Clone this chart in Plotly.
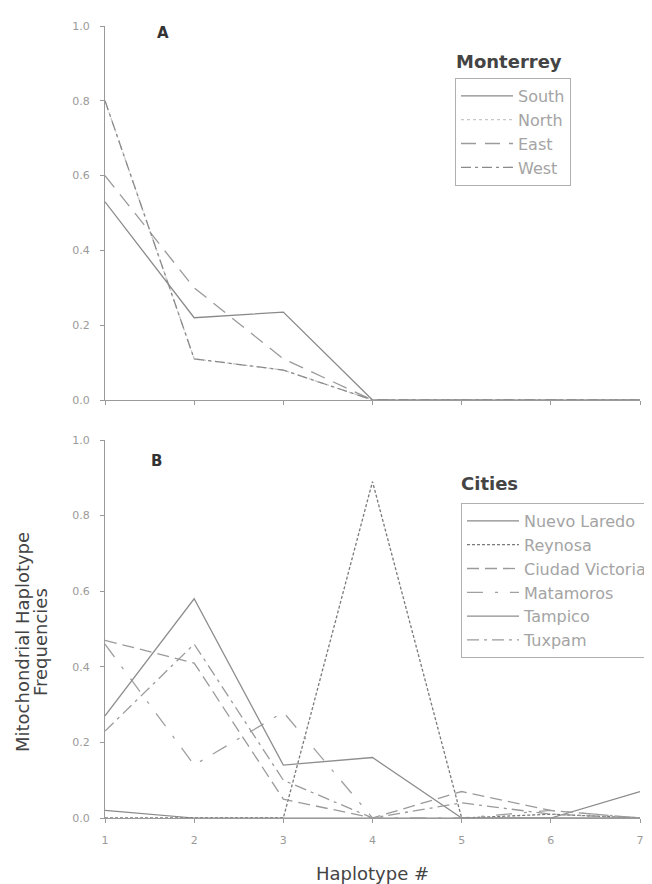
import plotly.graph_objects as go

# ---------------- data ----------------
haplotypes = [1, 2, 3, 4, 5, 6, 7]

# Panel A: Monterrey
south = [0.53, 0.22, 0.235, 0.0, 0.0, 0.0, 0.0]
north = [0.80, 0.11, 0.08, 0.0, 0.0, 0.0, 0.0]
east = [0.60, 0.30, 0.11, 0.0, 0.0, 0.0, 0.0]
west = [0.80, 0.11, 0.08, 0.0, 0.0, 0.0, 0.0]

# Panel B: Cities
nuevo_laredo = [0.02, 0.0, 0.0, 0.0, 0.0, 0.0, 0.07]
reynosa = [0.0, 0.0, 0.0, 0.89, 0.0, 0.01, 0.0]
ciudad_victoria = [0.47, 0.41, 0.05, 0.0, 0.07, 0.02, 0.0]
matamoros = [0.46, 0.14, 0.28, 0.0, 0.0, 0.02, 0.0]
tampico = [0.27, 0.58, 0.14, 0.16, 0.0, 0.0, 0.0]
tuxpam = [0.23, 0.46, 0.10, 0.0, 0.04, 0.01, 0.0]

y_ticks = [0.0, 0.2, 0.4, 0.6, 0.8, 1.0]
x_ticks = haplotypes

FONT = "DejaVu Sans"

fig = go.Figure()

panel_a = [
    ("South", south, "#8a8a8a", "solid", 1.3),
    ("North", north, "#c8c8c8", "dot", 1.3),
    ("East", east, "#9a9a9a", "15px,9px", 1.3),
    ("West", west, "#8a8a8a", "10px,4px,3px,4px", 1.3),
]
for name, vals, col, dash, w in panel_a:
    fig.add_trace(go.Scatter(x=haplotypes, y=vals, name=name, mode="lines",
                             line=dict(color=col, dash=dash, width=w),
                             xaxis="x", yaxis="y", legend="legend"))

panel_b = [
    ("Nuevo Laredo", nuevo_laredo, "#8a8a8a", "solid", 1.2),
    ("Reynosa", reynosa, "#7a7a7a", "3px,2px", 1.3),
    ("Ciudad Victoria", ciudad_victoria, "#9a9a9a", "12px,6px", 1.3),
    ("Matamoros", matamoros, "#a0a0a0", "16px,12px,3px,12px", 1.3),
    ("Tampico", tampico, "#8e8e8e", "solid", 1.3),
    ("Tuxpam", tuxpam, "#9a9a9a", "12px,5px,3px,5px", 1.3),
]
for name, vals, col, dash, w in panel_b:
    fig.add_trace(go.Scatter(x=haplotypes, y=vals, name=name, mode="lines",
                             line=dict(color=col, dash=dash, width=w),
                             xaxis="x2", yaxis="y2", legend="legend2"))

# page body has an 8px margin: figure is drawn from (8, 8)
OFF = 8
W, H = 652 - OFF, 884 - OFF
# plot area in screen pixels
PL, PR, PT, PB = 105, 640, 26, 818
ML, MR, MT, MB = PL - OFF, W - (PR - OFF), PT - OFF, H - (PB - OFF)
PW = PR - PL
PH = PB - PT


def px_x(x):
    return (x - PL) / PW


def px_y(y):
    return (PB - y) / PH


axis_common = dict(
    showline=True, linecolor="#9a9a9a", linewidth=1,
    ticks="outside", ticklen=4, tickcolor="#9a9a9a",
    showgrid=False, zeroline=False,
    tickfont=dict(family=FONT, size=11, color="#9a9a9a"),
)

legend_common = dict(xanchor="left", yanchor="top",
                     bordercolor="#b0b0b0", borderwidth=1, bgcolor="white",
                     font=dict(family=FONT, size=16, color="#a4a4a4"),
                     tracegroupgap=0, itemwidth=52)

fig.update_layout(
    width=W, height=H,
    margin=dict(l=ML, r=MR, t=MT, b=MB, autoexpand=False),
    paper_bgcolor="white", plot_bgcolor="white",
    xaxis=dict(domain=[0, 1], range=[1, 7], anchor="y", tickvals=x_ticks,
               showticklabels=False, **axis_common),
    yaxis=dict(domain=[px_y(400), 1], range=[0, 1], anchor="x", tickvals=y_ticks,
               tickformat=".1f", ticklabelstandoff=8, **axis_common),
    xaxis2=dict(domain=[0, 1], range=[1, 7], anchor="y2", tickvals=x_ticks,
                ticklabelstandoff=8, **axis_common),
    yaxis2=dict(domain=[0, px_y(440)], range=[0, 1], anchor="x2", tickvals=y_ticks,
                tickformat=".1f", ticklabelstandoff=8, **axis_common),
    legend=dict(x=px_x(455), y=px_y(78), **legend_common),
    legend2=dict(x=px_x(461), y=px_y(503), **legend_common),
    showlegend=True,
)

annotations = [
    dict(text="<b>A</b>", x=px_x(163), y=px_y(33), font=dict(size=15, color="#333333")),
    dict(text="<b>B</b>", x=px_x(156), y=px_y(461), font=dict(size=15, color="#333333")),
    dict(text="<b>Monterrey</b>", x=px_x(454), y=px_y(61), xanchor="left",
         font=dict(size=18, color="#444444")),
    dict(text="<b>Cities</b>", x=px_x(459), y=px_y(483), xanchor="left",
         font=dict(size=18, color="#444444")),
    dict(text="Haplotype #", x=px_x(372), y=px_y(873),
         font=dict(size=18, color="#444444")),
    dict(text="Mitochondrial Haplotype", x=px_x(22), y=px_y(642), textangle=-90,
         font=dict(size=18, color="#444444")),
    dict(text="Frequencies", x=px_x(40), y=px_y(642), textangle=-90,
         font=dict(size=18, color="#444444")),
]
for a in annotations:
    a.setdefault("xanchor", "center")
    a.update(xref="paper", yref="paper", showarrow=False, yanchor="middle")
    a["font"]["family"] = FONT
    fig.add_annotation(**a)

fig.write_html("out.html")
